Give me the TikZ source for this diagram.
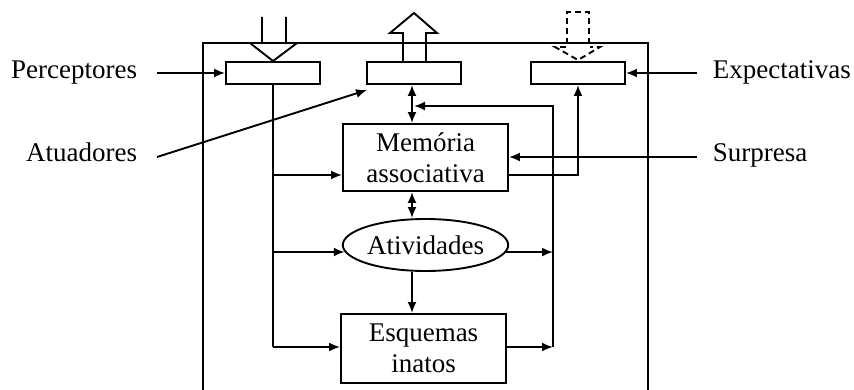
\documentclass[tikz,border=0pt]{standalone}
\usepackage{fontspec}
\setmainfont{Liberation Serif}
\usetikzlibrary{positioning, shapes.geometric, arrows.meta}
\tikzset{
	slot/.style={draw, rectangle, inner sep=0pt, minimum width=94pt, minimum height=22pt},
	block/.style={draw, rectangle, inner sep=0pt, minimum width=165pt, minimum height=67pt, align=center},
	act/.style={draw, ellipse, inner sep=0pt, minimum width=165pt, minimum height=52pt},
	lab/.style={inner sep=0pt},
	% dashed outline of the expected input
	ghost/.style={dash pattern=on 6pt off 4pt},
}

\begin{document}
\begin{tikzpicture}[x=1pt, y=-1pt, line width=1.9pt, line join=miter, font=\fontsize{27}{31}\selectfont]
	\useasboundingbox (0,0) rectangle (854,390);
	
	% agent frame (open at the bottom)
	\draw (203,390) -- (203,43) -- (648,43) -- (648,390);
	
	\node (perc) [slot] at (273,73) {};
	\node (atua) [slot] at (414,73) {};
	\node (expe) [slot] at (578,73) {};
	
	\node (mem) [block] at (425.5,157.5) {Memória\\associativa};
	\node (ativ) [act] at (425.5,245) {Atividades};
	\node (esq) [block, minimum height=69pt] at (423.5,348.5) {Esquemas\\inatos};
	
	% outside labels
	\node (lperc) [lab, anchor=base east] at (138,79) {Perceptores};
	\node (latua) [lab, anchor=base east] at (138,161.5) {Atuadores};
	\node (lexpe) [lab, anchor=base west] at (712,79) {Expectativas};
	\node (lsurp) [lab, anchor=base west] at (712,161.5) {Surpresa};
	
	% free ends
	\coordinate (pin) at (157,73);
	\coordinate (ain) at (157,157);
	\coordinate (aout) at (367,90);
	\coordinate (ein) at (697,73);
	\coordinate (sin) at (697,157);
	
	% junctions
	\coordinate (j1) at (perc.south |- 0,175);
	\coordinate (j2) at (perc.south |- 0,252);
	\coordinate (j3) at (perc.south |- 0,347);
	\coordinate (r0) at (553,106);
	\coordinate (spine) at (412,106);
	
	% hollow arrows: in, out, expected
	\draw (262,17) -- (262,43) -- (250,43) -- (273,61) -- (297,43) -- (286,43) -- (286,17);
	\draw (403,62) -- (403,33) -- (390,33) -- (414,13) -- (437,33) -- (426,33) -- (426,62);
	\draw[ghost] (567,44) -- (567,12) -- (589,12) -- (589,44);
	\draw[ghost] (566,47) -- (555,47) -- (578,60) -- (600,47) -- (590,47);
	
	\begin{scope}[->, >={Latex[length=11pt, width=9pt]}]
		\draw (pin) -- (perc);
		\draw (ain) -- (aout);
		\draw (ein) -- (expe);
		\draw (sin) -- (sin -| mem.east);
		
		% perceptors feed everything below
		\draw[-] (perc.south) -- (j3);
		\draw (j1) -- (j1 -| mem.west);
		\draw (j2) -- (j2 -| ativ.185);
		\draw (j3) -- (j3 -| esq.west);
		
		% collector on the right
		\draw (ativ.355) -- (ativ.355 -| r0);
		\draw (esq.east |- j3) -- (j3 -| r0);
		\draw (j3 -| r0) -- (r0) -- ([xshift=2pt]spine);
		
		\draw (j1 -| mem.east) -- (j1 -| expe.south) -- (expe.south);
		
		\draw[<->] (spine |- atua.south) -- (spine |- mem.north);
		\draw[<->] (spine |- mem.south) -- (spine |- ativ.north);
		\draw (spine |- ativ.south) -- (spine |- esq.north);
	\end{scope}
\end{tikzpicture}
\end{document}
